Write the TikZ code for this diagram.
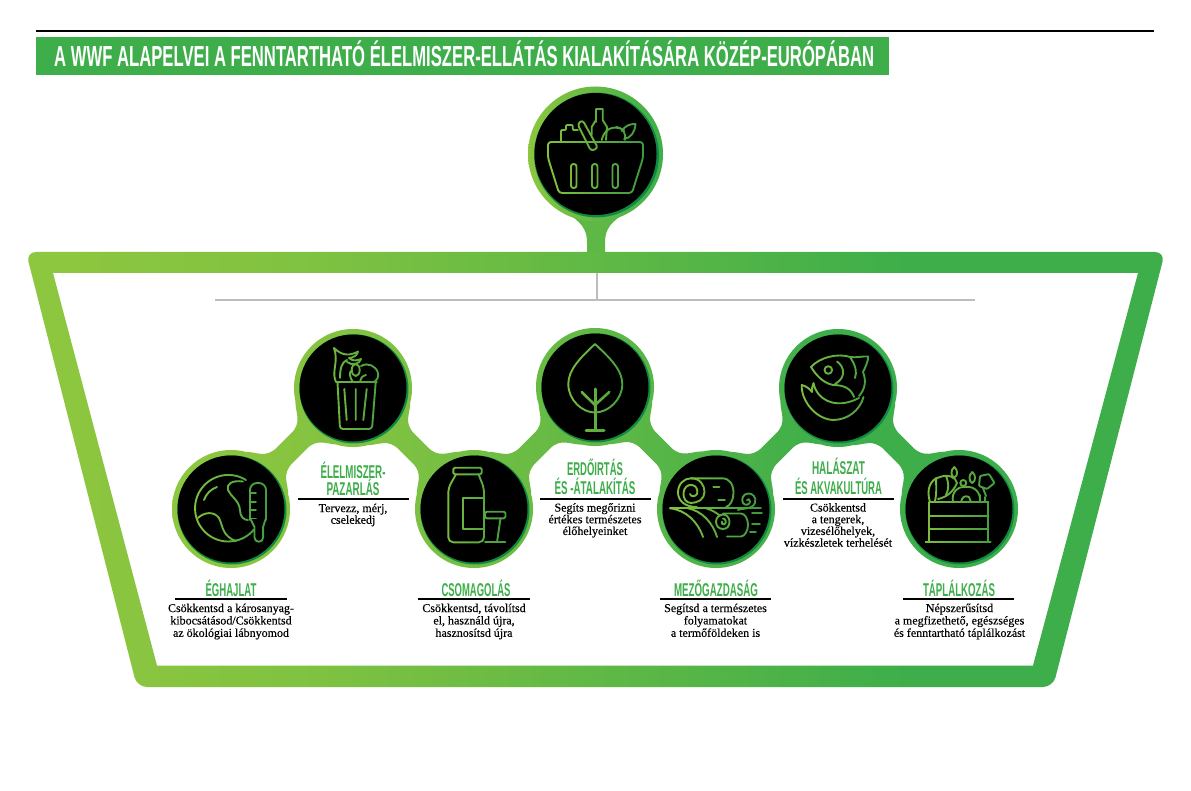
\documentclass[tikz,border=0pt]{standalone}
\usepackage{fontspec}
\usepackage{graphicx}
\usetikzlibrary{calc}
\setmainfont{Liberation Serif}[FakeBold=0.25]
\newfontfamily\hdfont{Liberation Sans}
\definecolor{lime}{HTML}{8DC63F}
\definecolor{grn}{HTML}{3DAE4A}
\definecolor{dgrn}{HTML}{0E8A45}
\definecolor{rulegray}{HTML}{BDBDBD}
\pgfdeclarehorizontalshading{wideg}{100bp}{color(0bp)=(lime);color(27bp)=(lime);color(38bp)=(lime!82!grn);color(64bp)=(grn);color(100bp)=(grn)}
\newcommand{\linkp}[3]{%
 ([shift={(#1)},rotate=#2]50,31) .. controls ([shift={(#1)},rotate=#2]59,22) and ([shift={(#1)},rotate=#2]60,11) .. ([shift={(#1)},rotate=#2]76,11)
 -- ([shift={(#1)},rotate=#2]#3-76,11) .. controls ([shift={(#1)},rotate=#2]#3-60,11) and ([shift={(#1)},rotate=#2]#3-59,22) .. ([shift={(#1)},rotate=#2]#3-50,31)
 -- ([shift={(#1)},rotate=#2]#3-50,-31) .. controls ([shift={(#1)},rotate=#2]#3-59,-22) and ([shift={(#1)},rotate=#2]#3-60,-11) .. ([shift={(#1)},rotate=#2]#3-76,-11)
 -- ([shift={(#1)},rotate=#2]76,-11) .. controls ([shift={(#1)},rotate=#2]60,-11) and ([shift={(#1)},rotate=#2]59,-22) .. ([shift={(#1)},rotate=#2]50,-31) -- cycle }
\newcommand{\hd}[2]{\resizebox{#2pt}{\height}{#1}}
\tikzset{
 ico/.style={draw=white,line width=1.9pt,line cap=round,line join=round},
 blackdisc/.style={circle,fill=black,draw=none,minimum size=107pt,inner sep=0pt},
 head/.style={anchor=base,inner sep=0pt,text=grn,font=\hdfont\bfseries\fontsize{18.5}{19}\selectfont},
 bodytxt/.style={anchor=north,inner sep=0pt,align=center,font=\fontsize{12}{12.4}\selectfont},
 uppertxt/.style={bodytxt,font=\fontsize{12}{11.7}\selectfont},
 hrule/.style={draw=black,line width=1.9pt},
 tree/.style={draw=rulegray,line width=2pt}
}
\newcommand{\iconglow}[1]{\begin{scope}[blend mode=multiply]\shade[left color=lime,right color=grn!85!black] (#1) circle (53pt);\end{scope}}
\begin{document}
\begin{tikzpicture}[x=1pt,y=-1pt]
\useasboundingbox (0,0) rectangle (1191,791);
\fill[white] (0,0) rectangle (1191,791);
\coordinate (p1) at (231,509);
\coordinate (p2) at (353,388);
\coordinate (p3) at (474,509);
\coordinate (p4) at (595,387);
\coordinate (p5) at (716,509);
\coordinate (p6) at (838,388);
\coordinate (p7) at (959,509);
\coordinate (t) at (595.5,154);
% title
\coordinate (tl) at (36,31);
\coordinate (tr) at (1154,31);
\draw[black,line width=2.4pt] (tl) -- (tr);
\fill[grn] (36,37) rectangle (889,75);
\node[anchor=base west,inner sep=0pt,text=white,font=\hdfont\bfseries\fontsize{29}{30}\selectfont] (title) at (54,67) {\hd{A WWF ALAPELVEI A FENNTARTHATÓ ÉLELMISZER-ELLÁTÁS KIALAKÍTÁSÁRA KÖZÉP-EURÓPÁBAN}{820}};
% stem
\fill[lime!40!grn] (566,212) .. controls (580,222) and (587,228) .. (587,242) -- (587,256) -- (605,256) -- (605,242) .. controls (605,228) and (612,222) .. (626,212) -- cycle;
% frame
\shade[shading=wideg,even odd rule,rounded corners=10pt]
 (26,252) -- (1165,252) -- (1053,687) -- (137,687) -- cycle
 [sharp corners] (53,273) -- (1138,273) -- (1033,665.5) -- (157,665.5) -- cycle;
% gray tree
\coordinate (g0) at (597,273);
\coordinate (g1) at (597,300);
\coordinate (gl) at (215,300);
\coordinate (gr) at (975,300);
\draw[tree] (g0) -- (g1);
\draw[tree] (gl) -- (gr);
% network
\shade[shading=wideg]
 (p1) circle (59pt) (p2) circle (59pt) (p3) circle (59pt) (p4) circle (59pt) (p5) circle (59pt) (p6) circle (59pt) (p7) circle (59pt)
 \linkp{p1}{45}{172} \linkp{p2}{-45}{171} \linkp{p3}{45}{172} \linkp{p4}{-45}{172} \linkp{p5}{45}{172} \linkp{p6}{-45}{171};
% dark crescents
\foreach \c in {p1,p2,p3,p4,p5,p6,p7}{\fill[dgrn] ([shift={(0.9,0.9)}]\c) circle (54.6pt);}
\node[blackdisc] (n1) at (p1) {};
\node[blackdisc] (n2) at (p2) {};
\node[blackdisc] (n3) at (p3) {};
\node[blackdisc] (n4) at (p4) {};
\node[blackdisc] (n5) at (p5) {};
\node[blackdisc] (n6) at (p6) {};
\node[blackdisc] (n7) at (p7) {};
% top disc
\shade[left color=lime,right color=grn] (t) circle (67.5pt);
\fill[dgrn] ([shift={(1,1)}]t) circle (62.4pt);
\node[circle,fill=black,minimum size=122pt,inner sep=0pt] (n0) at (t) {};
% basket icon
\begin{scope}[ico]
\draw[rounded corners=3pt] (548,158) -- (548,142) -- (643,142) -- (643,158) -- (632,193) -- (559,193) -- cycle;
\draw[rounded corners=2.5pt] (571,164) rectangle (576.5,188);
\draw[rounded corners=2.5pt] (592,164) rectangle (597.5,188);
\draw[rounded corners=2.5pt] (612.5,164) rectangle (618,188);
\draw[rounded corners=3pt] (577.5,124) -- (582.5,120) -- (598,148) -- (591,151) -- cycle;
\draw (596,122) -- (596,109) -- (602.7,109) -- (602.7,120) -- (607,127) -- (606,140);
\draw (596,120) -- (591.7,127) -- (591.7,135);
\draw[rounded corners=1pt] (561,141) -- (561,130) -- (566,130) -- (566,125) -- (572.7,125) -- (572.7,130) -- (578,130);
\draw (601.7,140) .. controls (604,130) and (612,124) .. (624,130) (616,127) .. controls (624,128) and (626,134) .. (625,140);
\draw (621.7,131) .. controls (626,125) and (630,124) .. (635.5,124) .. controls (635,132) and (631,138) .. (624,139);
\end{scope}
\begin{scope}[blend mode=multiply]\shade[left color=lime,right color=grn!85!black] (t) circle (60pt);\end{scope}
% globe icon
\begin{scope}[ico]
\draw (246,480) arc (-58:-320:33.3);
\draw[rounded corners=7pt] (250,520) -- (250,483) -- (266,483) -- (266,520);
\draw (250,518) -- (254.5,527) -- (254.5,537.5) arc (180:0:4.3) -- (263.1,527) -- (266,518);
\draw (250,493) -- (256,493) (250,502) -- (256,502) (250,510) -- (256,510) (250,518.5) -- (256,518.5);
\draw (204,500) .. controls (206,494) and (211,489) .. (217,487);
\draw (243,481.5) .. controls (232,480) and (226,484) .. (228,490) .. controls (231,497) and (239,500) .. (240,510) .. controls (240,517) and (244,520) .. (248,520);
\draw (198,518) .. controls (204,512) and (214,511) .. (219,518) .. controls (223,526) and (222,536) .. (236,541);
\end{scope}
\iconglow{p1}
% trash icon
\begin{scope}[ico]
\draw[line width=2.2pt] (336.7,382.3) -- (376.7,382.3);
\draw[rounded corners=3pt] (337.5,382.3) -- (340,429) -- (372,429) -- (375.7,382.3);
\draw (344.3,389) -- (346.7,420) (355.7,389) -- (355.7,420) (366.7,389) -- (363.3,420);
\draw (336,382) .. controls (331,372) and (339,362) .. (334,348) .. controls (342,356) and (350,356) .. (358,351.5) .. controls (358,355) and (353,358) .. (349,358) .. controls (353,362) and (358,360) .. (361,359) .. controls (360,364) and (352,366) .. (347,362);
\draw (340,378) .. controls (340,368) and (342,362) .. (347,360);
\draw (355.7,370) ellipse (4pt and 6pt);
\draw (353,382) .. controls (349,376) and (349,372) .. (352,370);
\draw (361,366) .. controls (368,362) and (376,366) .. (378,373) .. controls (379,377) and (377,380) .. (374,382);
\draw (360,382) .. controls (361,378) and (362,376) .. (366,375);
\end{scope}
\iconglow{p2}
% jar icon
\begin{scope}[ico]
\draw[rounded corners=1.5pt] (453.3,467.7) rectangle (481.7,474.3);
\draw[rounded corners=5pt] (456,474.3) -- (448.3,488) -- (448.3,542.3) -- (484,542.3) -- (484,488) -- (478.5,474.3);
\draw (484,497.7) -- (462.7,497.7) -- (462.7,529) -- (484,529);
\draw[rounded corners=1.5pt] (485,511.7) rectangle (505.5,518.3);
\draw (500.5,518.3) -- (497,542.3);
\draw (485,542.3) -- (505.5,542.3);
\end{scope}
\iconglow{p3}
% tree icon
\begin{scope}[ico]
\draw (595,344) .. controls (580,358) and (568.3,370) .. (568.3,384) .. controls (568.3,400) and (582,412.5) .. (595,412.5) .. controls (608,412.5) and (622.3,400) .. (622.3,384) .. controls (622.3,370) and (610,358) .. (595,344) -- cycle;
\draw[line width=3pt] (595,389) -- (595,430);
\draw[line width=2.6pt] (581.7,392) -- (595,405) -- (609.3,392);
\draw[line width=3pt] (586,430.7) -- (604,430.7);
\end{scope}
\iconglow{p4}
% hay icon
\begin{scope}[ico]
\draw (691,478.3) -- (722,478.3) .. controls (730,478.3) and (733.5,485) .. (733.5,493) .. controls (733.5,500) and (730,506) .. (726,507);
\draw (697,507) .. controls (684,507) and (678,500) .. (678,492.5) .. controls (678,484) and (684,478.3) .. (691,478.3) .. controls (700,478.3) and (704.5,485) .. (704.5,492) .. controls (704.5,499) and (698,503) .. (691,503) .. controls (686,503) and (683,498) .. (683.5,493) .. controls (684,487) and (688,484.5) .. (692,485) .. controls (697,485.5) and (698,491) .. (697,494) .. controls (695,497) and (691,497) .. (690,494);
\draw (713.3,487.3) -- (719.3,487.3) (718.3,500) -- (725,500);
\draw (670,508.3) -- (761,508.3);
\draw (670,508.3) .. controls (686,510) and (698,522) .. (703,537);
\draw (688,508.3) .. controls (702,511) and (713,523) .. (717,537);
\draw (706,508.3) .. controls (712,510) and (717,513) .. (720,516);
\draw (729.5,521.7) .. controls (729.5,517) and (726,514.5) .. (723,514.5) .. controls (719,514.5) and (716,518) .. (716,521.7) .. controls (716,526) and (719,529) .. (723,529) .. controls (727,529) and (729.5,526) .. (729.5,521.7) -- cycle;
\draw (723,518.5) .. controls (726,518.5) and (727,523) .. (724,524.5) .. controls (722,525) and (721,522.5) .. (722,521.5);
\draw (723,513.5) -- (741,513.5) .. controls (745,513.5) and (748,519) .. (748,525) .. controls (748,530) and (745,536.5) .. (741,536.5) -- (727,536.5);
\draw (738,510) .. controls (741,508) and (752,510) .. (755,503) .. controls (757,497) and (752,493) .. (748,493.5) .. controls (743,494) and (741,499) .. (743,503) .. controls (745,506) and (750,505) .. (750,501.5) .. controls (750,499) and (748,498.5) .. (747,500);
\draw (752,513) -- (762,513) (752,524) -- (760,524) (750,532) -- (756,532);
\end{scope}
\iconglow{p5}
% fish icon
\begin{scope}[ico]
\draw (811,367) .. controls (820,357) and (838,353) .. (850,357) .. controls (856,358) and (863,356) .. (868.3,356.5) .. controls (868,362) and (865,368) .. (863,372) .. controls (866,380) and (866,388) .. (859,396);
\draw (811,367) .. controls (816,375) and (823,383) .. (833,385) .. controls (843,385) and (851,388) .. (854,397);
\draw (828.3,370) circle (3.8pt);
\draw (837,361.5) .. controls (845,367) and (846,378) .. (835,384);
\draw (850,357) .. controls (856,366) and (857,372) .. (855,378);
\draw (801.7,385) .. controls (806,386) and (810,389) .. (812,392) .. controls (812,389) and (812,386) .. (813.5,383) .. controls (816,398) and (834,411) .. (859,398);
\draw (801.7,385) .. controls (801,400) and (815,419) .. (833,420) .. controls (848,420) and (860,410) .. (863.5,397);
\end{scope}
\iconglow{p6}
% crate icon
\begin{scope}[ico]
\draw (929.3,502.3) -- (929.3,541.7) (988.3,502.3) -- (988.3,541.7);
\draw (929.3,502.3) -- (988.3,502.3) (929.3,515.7) -- (988.3,515.7) (929.3,529) -- (988.3,529);
\draw (925.7,541.7) -- (990.7,541.7);
\draw (930,502) .. controls (926,490) and (930,479) .. (940,477) .. controls (948,474) and (956,477) .. (957,483) .. controls (953,492) and (947,497) .. (938,499);
\draw (936,478) .. controls (936,484) and (937,492) .. (935,501) (946,476) .. controls (949,483) and (949,489) .. (946,495);
\draw (953,502) .. controls (951,492) and (958,486) .. (966,487) .. controls (974,486) and (981,492) .. (980,502);
\draw (961,502) .. controls (962,497) and (965,495) .. (969,497) -- (971,502);
\draw (954.3,467) .. controls (958,470) and (958,476) .. (954.3,477.5) .. controls (950.5,476) and (950.5,470) .. (954.3,467) -- cycle;
\draw (972.3,472) .. controls (976,475) and (976,481) .. (972.3,483) .. controls (968.5,481) and (968.5,475) .. (972.3,472) -- cycle;
\draw (963.3,483) circle (3pt);
\draw[rounded corners=1pt] (980,476) -- (989,474) -- (994.5,483) -- (987,489) -- (979,486) -- cycle;
\draw (983,488) -- (986,496);
\draw (980,495) -- (980,502) -- (985,502) -- (985,497);
\end{scope}
\iconglow{p7}
% labels
\node[head] (h1) at (231,596) {\hd{ÉGHAJLAT}{51}};
\coordinate (r1a) at (175,599); \coordinate (r1b) at (287,599);
\draw[hrule] (r1a) -- (r1b);
\node[bodytxt] (b1) at (231,603.5) {Csökkentsd a károsanyag-\\kibocsátásod/Csökkentsd\\az ökológiai lábnyomod};

\node[head] (h2a) at (353,478) {\hd{ÉLELMISZER-}{65}};
\node[head] (h2b) at (353,495) {\hd{PAZARLÁS}{53}};
\coordinate (r2a) at (298,499); \coordinate (r2b) at (409,499);
\draw[hrule] (r2a) -- (r2b);
\node[uppertxt] (b2) at (353,503.5) {Tervezz, mérj,\\cselekedj};

\node[head] (h3) at (476,596) {\hd{CSOMAGOLÁS}{69}};
\coordinate (r3a) at (418,599); \coordinate (r3b) at (530,599);
\draw[hrule] (r3a) -- (r3b);
\node[bodytxt] (b3) at (474,603.5) {Csökkentsd, távolítsd\\el, használd újra,\\hasznosítsd újra};

\node[head] (h4a) at (595,475) {\hd{ERDŐIRTÁS}{56}};
\node[head] (h4b) at (595,494) {\hd{ÉS -ÁTALAKÍTÁS}{81}};
\coordinate (r4a) at (540,499); \coordinate (r4b) at (651,499);
\draw[hrule] (r4a) -- (r4b);
\node[uppertxt] (b4) at (595,503) {Segíts megőrizni\\értékes természetes\\élőhelyeinket};

\node[head] (h5) at (716,596) {\hd{MEZŐGAZDASÁG}{84}};
\coordinate (r5a) at (660,599); \coordinate (r5b) at (771,599);
\draw[hrule] (r5a) -- (r5b);
\node[bodytxt] (b5) at (715.5,603.5) {Segítsd a természetes\\folyamatokat\\a termőföldeken is};

\node[head] (h6a) at (838.5,474) {\hd{HALÁSZAT}{53}};
\node[head] (h6b) at (838.5,494) {\hd{ÉS AKVAKULTÚRA}{87}};
\coordinate (r6a) at (783,499); \coordinate (r6b) at (894,499);
\draw[hrule] (r6a) -- (r6b);
\node[uppertxt] (b6) at (838,503) {Csökkentsd\\a tengerek,\\vizesélőhelyek,\\vízkészletek terhelését};

\node[head] (h7) at (959,596) {\hd{TÁPLÁLKOZÁS}{72}};
\coordinate (r7a) at (903,599); \coordinate (r7b) at (1014,599);
\draw[hrule] (r7a) -- (r7b);
\node[bodytxt] (b7) at (959.5,603.5) {Népszerűsítsd\\a megfizethető, egészséges\\és fenntartható táplálkozást};
\end{tikzpicture}
\end{document}
